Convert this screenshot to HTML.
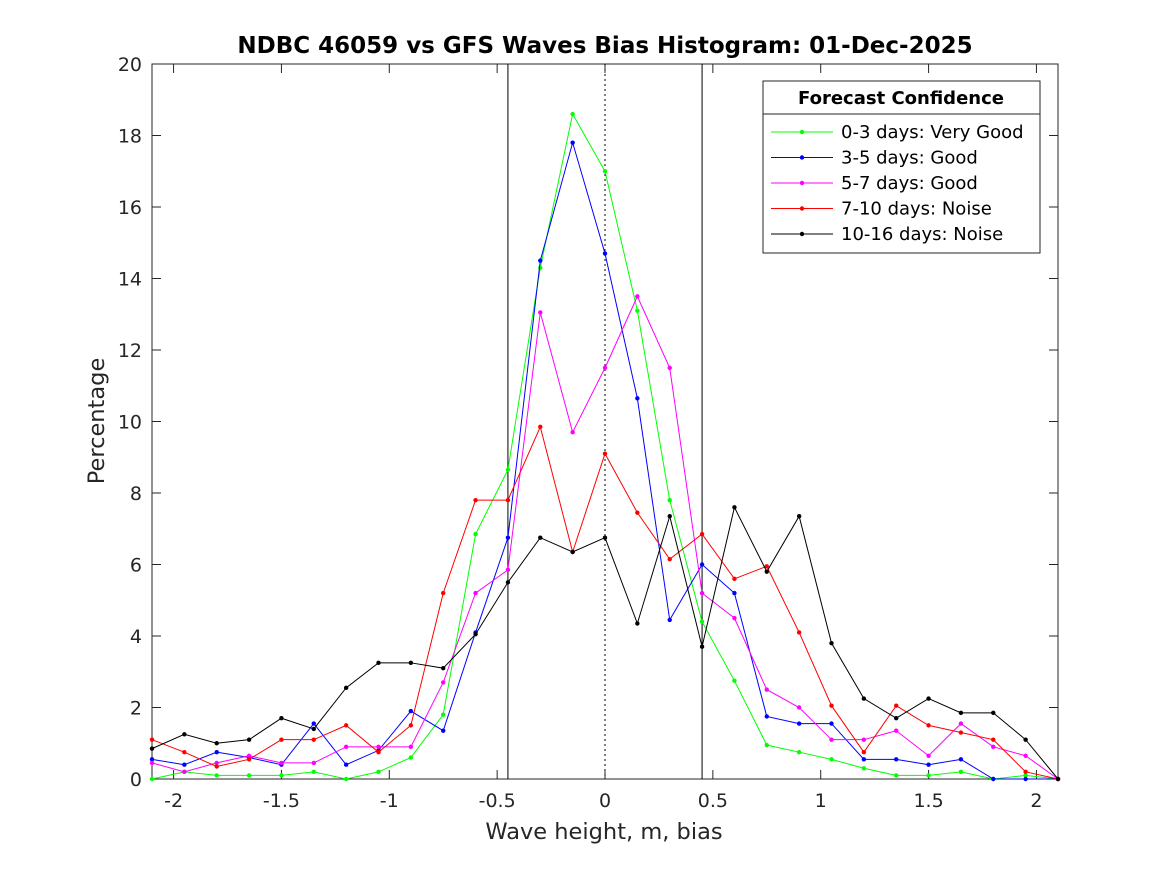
<!DOCTYPE html>
<html><head><meta charset="utf-8"><style>
body{margin:0;background:#fff;}
svg{display:block;font-family:"DejaVu Sans","Liberation Sans",sans-serif;}
</style></head><body>
<svg id="chart" width="1167" height="875" viewBox="0 0 1167 875"></svg>
<script>
const xValues=[-2.1,-1.95,-1.8,-1.65,-1.5,-1.35,-1.2,-1.05,-0.9,-0.75,-0.6,-0.45,-0.3,-0.15,0,0.15,0.3,0.45,0.6,0.75,0.9,1.05,1.2,1.35,1.5,1.65,1.8,1.95,2.1];
const green=[0,0.2,0.1,0.1,0.1,0.2,0,0.2,0.6,1.8,6.85,8.65,14.3,18.6,17.0,13.1,7.8,4.4,2.75,0.95,0.75,0.55,0.3,0.1,0.1,0.2,0,0.1,0];
const blue=[0.55,0.4,0.75,0.6,0.4,1.55,0.4,0.8,1.9,1.35,4.1,6.75,14.5,17.8,14.7,10.65,4.45,6.0,5.2,1.75,1.55,1.55,0.55,0.55,0.4,0.55,0,0,0];
const magenta=[0.45,0.2,0.45,0.65,0.45,0.45,0.9,0.9,0.9,2.7,5.2,5.85,13.05,9.7,11.5,13.5,11.5,5.2,4.5,2.5,2.0,1.1,1.1,1.35,0.65,1.55,0.9,0.65,0];
const red=[1.1,0.75,0.35,0.55,1.1,1.1,1.5,0.75,1.5,5.2,7.8,7.8,9.85,6.35,9.1,7.45,6.15,6.85,5.6,5.95,4.1,2.05,0.75,2.05,1.5,1.3,1.1,0.2,0];
const black=[0.85,1.25,1.0,1.1,1.7,1.4,2.55,3.25,3.25,3.1,4.05,5.5,6.75,6.35,6.75,4.35,7.35,3.7,7.6,5.8,7.35,3.8,2.25,1.7,2.25,1.85,1.85,1.1,0];
const xTicks=[-2,-1.5,-1,-0.5,0,0.5,1,1.5,2];
const xTickLabels=["-2","-1.5","-1","-0.5","0","0.5","1","1.5","2"];
const yTicks=[0,2,4,6,8,10,12,14,16,18,20];
const seriesNames=["0-3 days: Very Good","3-5 days: Good","5-7 days: Good","7-10 days: Noise","10-16 days: Noise"];
const vLines=[-0.45,0.45];

const L=152,R=1058,T=64,B=779;
const sx=v=>L+(v+2.1)/4.2*(R-L);
const sy=v=>B-v/20*(B-T);
const svg=document.getElementById('chart');
const NS='http://www.w3.org/2000/svg';
function mk(t,a,p){const e=document.createElementNS(NS,t);for(const k in a)e.setAttribute(k,a[k]);(p||svg).appendChild(e);return e;}

const frame=mk('rect',{x:L,y:T,width:R-L,height:B-T,fill:'#fff',stroke:'#262626','stroke-width':1});



xTicks.forEach((v,i)=>{
 const x=sx(v);
 mk('line',{x1:x,y1:B,x2:x,y2:B-9,stroke:'#262626'});
 mk('line',{x1:x,y1:T,x2:x,y2:T+9,stroke:'#262626'});
 const t=mk('text',{x:x,y:B+28,'text-anchor':'middle','font-size':19,fill:'#262626'});
 t.textContent=xTickLabels[i];
 
 
});
yTicks.forEach(v=>{
 const y=sy(v);
 mk('line',{x1:L,y1:y,x2:L+9,y2:y,stroke:'#262626'});
 mk('line',{x1:R,y1:y,x2:R-9,y2:y,stroke:'#262626'});
 const t=mk('text',{x:L-10,y:y+7,'text-anchor':'end','font-size':19,fill:'#262626'});
 t.textContent=String(v);
 
 
});

vLines.forEach(v=>{
 const l=mk('line',{x1:sx(v),y1:T,x2:sx(v),y2:B,stroke:'#000','stroke-width':1});
 
 
});
const zl=mk('line',{x1:sx(0),y1:T,x2:sx(0),y2:B,stroke:'#000','stroke-width':1,'stroke-dasharray':'2,3'});



const series=[[green,'#00ff00'],[blue,'#0000ff'],[magenta,'#ff00ff'],[red,'#ff0000'],[black,'#000000']];
series.forEach(([d,c],si)=>{
 const g=mk('g',{});
 
 
 mk('polyline',{points:d.map((v,i)=>sx(xValues[i])+','+sy(v)).join(' '),fill:'none',stroke:c,'stroke-width':1},g);
 d.forEach((v,i)=>{mk('circle',{cx:sx(xValues[i]),cy:sy(v),r:2.2,fill:c},g);});
});

const title=mk('text',{x:605,y:53,'text-anchor':'middle','font-size':23,'font-weight':'bold',fill:'#000'});
title.textContent='NDBC 46059 vs GFS Waves Bias Histogram: 01-Dec-2025';


const xt=mk('text',{x:604,y:839,'text-anchor':'middle','font-size':22.5,fill:'#262626'});
xt.textContent='Wave height, m, bias';


const yt=mk('text',{x:0,y:0,'text-anchor':'middle','font-size':22.5,fill:'#262626',transform:'translate(104,421) rotate(-90)'});
yt.textContent='Percentage';



const lg=mk('g',{});


mk('rect',{x:763,y:81,width:277,height:172,fill:'#fff',stroke:'#262626'},lg);
mk('line',{x1:763,y1:114,x2:1040,y2:114,stroke:'#262626'},lg);
const lt=mk('text',{x:901,y:104,'text-anchor':'middle','font-size':18,'font-weight':'bold',fill:'#000'},lg);
lt.textContent='Forecast Confidence';
seriesNames.forEach((n,i)=>{
 const y=132+i*25.5;
 const c=series[i][1];
 const e=mk('g',{},lg);
 
 
 mk('line',{x1:771,y1:y,x2:833,y2:y,stroke:c},e);
 mk('circle',{cx:802,cy:y,r:2.2,fill:c},e);
 const t=mk('text',{x:841,y:y+6,'font-size':18,fill:'#000'},e);
 t.textContent=n;
});
</script>
</body></html>
